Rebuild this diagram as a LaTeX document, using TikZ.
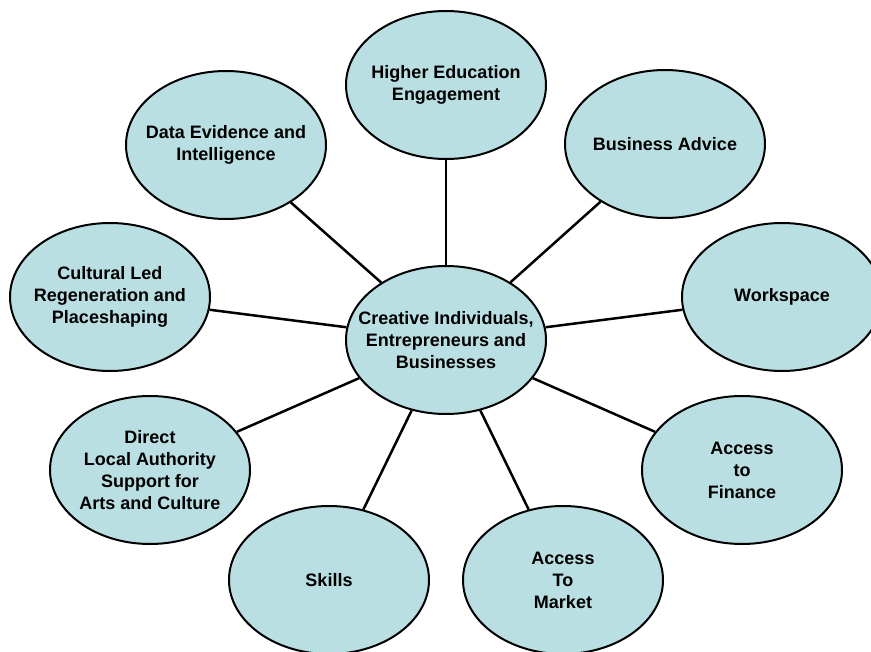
\documentclass[tikz,border=0pt]{standalone}
\usepackage{fontspec}
\setmainfont{Liberation Sans}
\usepackage{xcolor}
\usepackage{tikz}
\usetikzlibrary{shapes.geometric}
\definecolor{bubblecol}{RGB}{185,223,226}
\tikzstyle{bubble} = [ellipse,draw=black,line width=2pt,fill=bubblecol,minimum width=200pt,minimum height=148pt,inner sep=0pt]
\tikzstyle{txt} = [align=center,font=\fontsize{18}{22}\selectfont\bfseries]
\tikzstyle{spoke} = [line width=2.5pt]

\begin{document}
\begin{tikzpicture}[x=1pt,y=-1pt]
            \useasboundingbox (0,0) rectangle (871,652);
            % hub
            \node[bubble,label={[txt]center:{Creative Individuals,\\Entrepreneurs and\\Businesses}}] (centre) at (446,340) {};
            % outer bubbles
            \node[bubble,label={[txt]center:{Higher Education\\Engagement}}] (higher) at (446,85) {};
            \node[bubble,label={[txt]center:{Business Advice}}] (advice) at (665,144) {};
            \node[bubble,label={[txt]center:{Workspace}}] (workspace) at (782,297) {};
            \node[bubble,label={[txt]center:{Access\\to\\Finance}}] (finance) at (742,470) {};
            \node[bubble,label={[txt]center:{Access\\To\\Market}}] (market) at (563,580) {};
            \node[bubble,label={[txt]center:{Skills}}] (skills) at (329,580) {};
            \node[bubble,label={[txt]center:{Direct\\Local Authority\\Support for\\Arts and Culture}}] (direct) at (150,470) {};
            \node[bubble,label={[txt]center:{Cultural Led\\Regeneration and\\Placeshaping}}] (cultural) at (110,297) {};
            \node[bubble,label={[txt]center:{Data Evidence and\\Intelligence}}] (data) at (226,145) {};
            % spokes
            \foreach \n in {higher,advice,workspace,finance,market,skills,direct,cultural,data}
                \draw[spoke] (centre) -- (\n);
        \end{tikzpicture}
\end{document}
